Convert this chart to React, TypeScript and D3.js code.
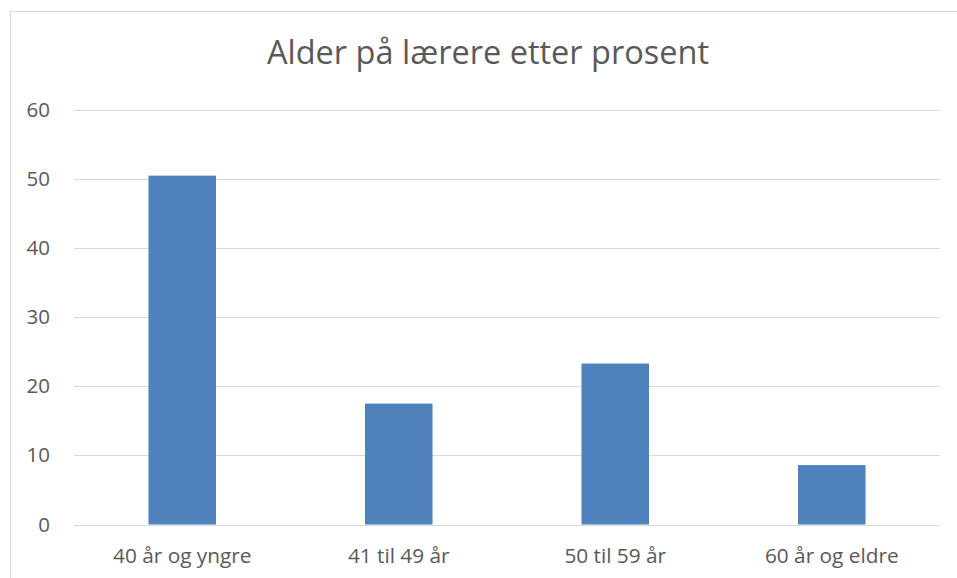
import { useEffect, useRef } from 'react';
import * as d3 from 'd3';

// chart data
const categories = ['40 år og yngre', '41 til 49 år', '50 til 59 år', '60 år og eldre'];
const values = [50.5, 17.5, 23.3, 8.6];
const yTicks = [0, 10, 20, 30, 40, 50, 60];
const title = 'Alder på lærere etter prosent';

const W = 957;
const H = 578;
const font = '"Open Sans", "Noto Sans", sans-serif';

const App = () => {
    const ref = useRef<SVGSVGElement>(null);

    useEffect(() => {
        const svg = d3.select(ref.current);
        svg.selectAll('*').remove();

        // plot area
        const left = 74, right = 940, top = 110, bottom = 524.5;

        const x = d3.scaleBand<string>()
            .domain(categories)
            .range([left, right])
            .paddingInner(0.688)
            .paddingOuter(0.344);
        const y = d3.scaleLinear().domain([0, 60]).range([bottom, top]);

        // chart frame
        svg.append('rect')
            .attr('x', 10.5)
            .attr('y', 11.5)
            .attr('width', 955)
            .attr('height', 600)
            .attr('fill', 'white')
            .attr('stroke', '#d9d9d9')
            .attr('stroke-width', 1);

        // title
        svg.append('text')
            .attr('x', 488)
            .attr('y', 64)
            .attr('text-anchor', 'middle')
            .attr('font-family', font)
            .attr('font-size', 32.5)
            .attr('fill', '#595959')
            .text(title);

        // gridlines
        svg.append('g')
            .selectAll('line')
            .data(yTicks)
            .join('line')
            .attr('x1', left)
            .attr('x2', right)
            .attr('y1', d => Math.round(y(d)) + 0.5)
            .attr('y2', d => Math.round(y(d)) + 0.5)
            .attr('stroke', '#d9d9d9')
            .attr('stroke-width', 1);

        // y tick labels
        svg.append('g')
            .selectAll('text')
            .data(yTicks)
            .join('text')
            .attr('x', 50)
            .attr('y', d => y(d) + 7)
            .attr('text-anchor', 'end')
            .attr('font-family', font)
            .attr('font-size', 20.5)
            .attr('fill', '#595959')
            .text(d => d);

        // bars
        svg.append('g')
            .selectAll('rect')
            .data(values)
            .join('rect')
            .attr('x', (d, i) => x(categories[i])!)
            .attr('width', x.bandwidth())
            .attr('y', d => y(d))
            .attr('height', d => y(0) - y(d))
            .attr('fill', '#4f81bd');

        // category labels
        svg.append('g')
            .selectAll('text')
            .data(categories)
            .join('text')
            .attr('x', d => x(d)! + x.bandwidth() / 2)
            .attr('y', 563)
            .attr('text-anchor', 'middle')
            .attr('font-family', font)
            .attr('font-size', 20.8)
            .attr('fill', '#595959')
            .text(d => d);
    }, []);

    return (
        <svg ref={ref} width={W} height={H} style={{ position: 'absolute', left: 0, top: 0, background: 'white' }}></svg>
    );
};

export default App;
